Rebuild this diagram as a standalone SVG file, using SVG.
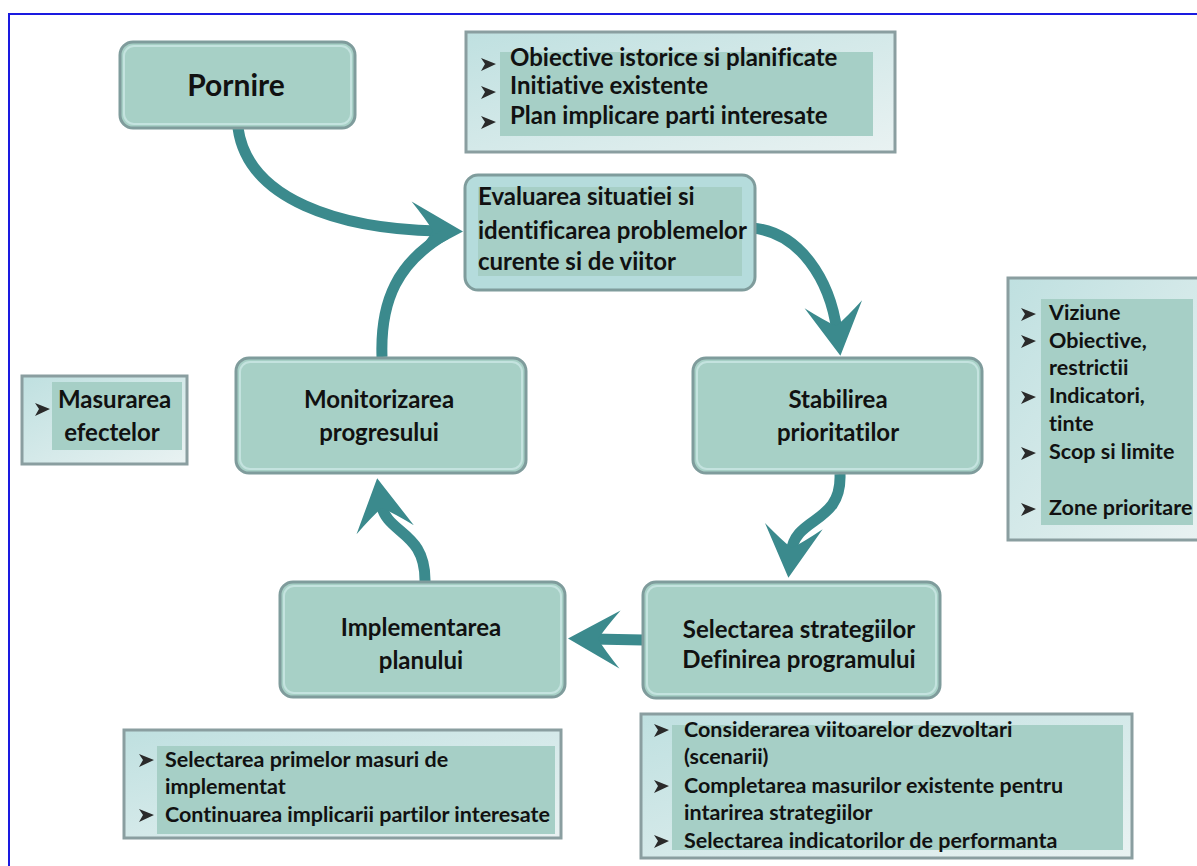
<svg xmlns="http://www.w3.org/2000/svg" width="1197" height="866" viewBox="0 0 1197 866">
<defs>
<linearGradient id="infoGrad" x1="0" y1="0" x2="1" y2="1">
<stop offset="0" stop-color="#bfe0e0"/>
<stop offset="1" stop-color="#e9f2f2"/>
</linearGradient>
<marker id="head" viewBox="-56 -32 58 64" refX="-25" refY="0" markerWidth="58" markerHeight="64" markerUnits="userSpaceOnUse" orient="auto">
<path d="M0,0 L-52,-29 Q-37,-11 -30,0 Q-37,11 -52,29 Z" fill="#3b8a8d"/>
</marker>
<path id="bul" d="M0,-6 L15,0 L0,7 L4,0 Z" fill="#2a2a2a"/>
</defs>
<style>
.box{fill:#a7d0c6;stroke:#7f9c9c;stroke-width:3}
.hl{fill:none;stroke:#c4e3df;stroke-width:2}
.info{fill:url(#infoGrad);stroke:#8a9ea0;stroke-width:3}
.inner{fill:#a6cfc6}
.t{font-family:Lato,"Liberation Sans",sans-serif;font-weight:bold;fill:#111;font-size:24px;font-variant-ligatures:none}
.s{font-family:Lato,"Liberation Sans",sans-serif;font-weight:bold;fill:#111;font-size:21.5px;font-variant-ligatures:none}
.c{text-anchor:middle}
.con{fill:none;stroke:#3b8a8d;stroke-width:11;stroke-linecap:butt}
</style>
<rect x="0" y="0" width="1197" height="866" fill="#fff"/>
<path d="M9,866 V14 H1197" fill="none" stroke="#1a1ae0" stroke-width="2"/>

<g id="connectors">
<path class="con" d="M238,128 C248,200 340,229 438,231" marker-end="url(#head)"/>
<path class="con" d="M382,357 C380,300 398,262 446,234"/>
<path class="con" d="M752,228 C800,232 830,280 837,331" marker-end="url(#head)"/>
<path class="con" d="M840,474 C842,525 795,515 791,553" marker-end="url(#head)"/>
<path class="con" d="M643,640 L593,639" marker-end="url(#head)"/>
<path class="con" d="M425,582 C426,530 386,535 381,503" marker-end="url(#head)"/>
</g>

<g id="pornire">
<rect class="box" x="120" y="42" width="235" height="86" rx="13"/>
<rect class="hl" x="124" y="46" width="227" height="78" rx="10"/>
<text class="t c" x="236" y="96" style="font-size:30px">Pornire</text>
</g>

<g id="info-top">
<rect class="info" x="466" y="32" width="429" height="120"/>
<rect class="inner" x="500" y="52" width="373" height="84"/>
<use href="#bul" x="481" y="64"/>
<use href="#bul" x="481" y="92"/>
<use href="#bul" x="481" y="122"/>
<text class="t" x="510" y="66">Obiective istorice si planificate</text>
<text class="t" x="510" y="94">Initiative existente</text>
<text class="t" x="510" y="124">Plan implicare parti interesate</text>
</g>

<g id="evaluarea">
<rect x="465" y="175" width="290" height="115" rx="13" fill="#b5dcdc" stroke="#7f9c9c" stroke-width="3"/>
<rect class="inner" x="478" y="187" width="264" height="89"/>
<text class="t" x="478" y="205">Evaluarea situatiei si</text>
<text class="t" x="478" y="239">identificarea problemelor</text>
<text class="t" x="478" y="270">curente si de viitor</text>
</g>

<g id="stabilirea">
<rect class="box" x="693" y="358" width="289" height="115" rx="13"/>
<rect class="hl" x="697" y="362" width="281" height="107" rx="10"/>
<text class="t c" x="838" y="408">Stabilirea</text>
<text class="t c" x="838" y="441">prioritatilor</text>
</g>

<g id="monitorizarea">
<rect class="box" x="236" y="358" width="290" height="115" rx="13"/>
<rect class="hl" x="240" y="362" width="282" height="107" rx="10"/>
<text class="t c" x="379" y="408">Monitorizarea</text>
<text class="t c" x="379" y="441">progresului</text>
</g>

<g id="selectarea">
<rect class="box" x="643" y="582" width="297" height="116" rx="13"/>
<rect class="hl" x="647" y="586" width="289" height="108" rx="10"/>
<text class="t c" x="799" y="638">Selectarea strategiilor</text>
<text class="t c" x="799" y="668">Definirea programului</text>
</g>

<g id="implementarea">
<rect class="box" x="280" y="582" width="285" height="115" rx="13"/>
<rect class="hl" x="284" y="586" width="277" height="107" rx="10"/>
<text class="t c" x="421" y="636">Implementarea</text>
<text class="t c" x="421" y="669">planului</text>
</g>

<g id="masurarea">
<rect class="info" x="22" y="376" width="165" height="88"/>
<rect class="inner" x="52" y="382" width="130" height="68"/>
<use href="#bul" x="35" y="409"/>
<text class="t" x="58" y="408">Masurarea</text>
<text class="t c" x="112" y="441">efectelor</text>
</g>

<g id="info-right">
<rect class="info" x="1008" y="278" width="192" height="262"/>
<rect class="inner" x="1041" y="299" width="152" height="226"/>
<use href="#bul" x="1021" y="314"/>
<use href="#bul" x="1021" y="341"/>
<use href="#bul" x="1021" y="397"/>
<use href="#bul" x="1021" y="453"/>
<use href="#bul" x="1021" y="509"/>
<text class="s" x="1049" y="320">Viziune</text>
<text class="s" x="1049" y="348">Obiective,</text>
<text class="s" x="1049" y="375">restrictii</text>
<text class="s" x="1049" y="403">Indicatori,</text>
<text class="s" x="1049" y="431">tinte</text>
<text class="s" x="1049" y="459">Scop si limite</text>
<text class="s" x="1049" y="515">Zone prioritare</text>
</g>

<g id="info-bottom-left">
<rect class="info" x="124" y="730" width="437" height="108"/>
<rect class="inner" x="157" y="746" width="398" height="88"/>
<use href="#bul" x="139" y="760"/>
<use href="#bul" x="139" y="815"/>
<text class="s" x="165" y="767">Selectarea primelor masuri de</text>
<text class="s" x="165" y="794">implementat</text>
<text class="s" x="165" y="822">Continuarea implicarii partilor interesate</text>
</g>

<g id="info-bottom-right">
<rect class="info" x="641" y="714" width="491" height="144"/>
<rect class="inner" x="672" y="725" width="451" height="125"/>
<use href="#bul" x="654" y="730"/>
<use href="#bul" x="654" y="786"/>
<use href="#bul" x="654" y="841"/>
<text class="s" x="684" y="737">Considerarea viitoarelor dezvoltari</text>
<text class="s" x="684" y="764">(scenarii)</text>
<text class="s" x="684" y="793">Completarea masurilor existente pentru</text>
<text class="s" x="684" y="820">intarirea strategiilor</text>
<text class="s" x="684" y="848">Selectarea indicatorilor de performanta</text>
</g>
</svg>
